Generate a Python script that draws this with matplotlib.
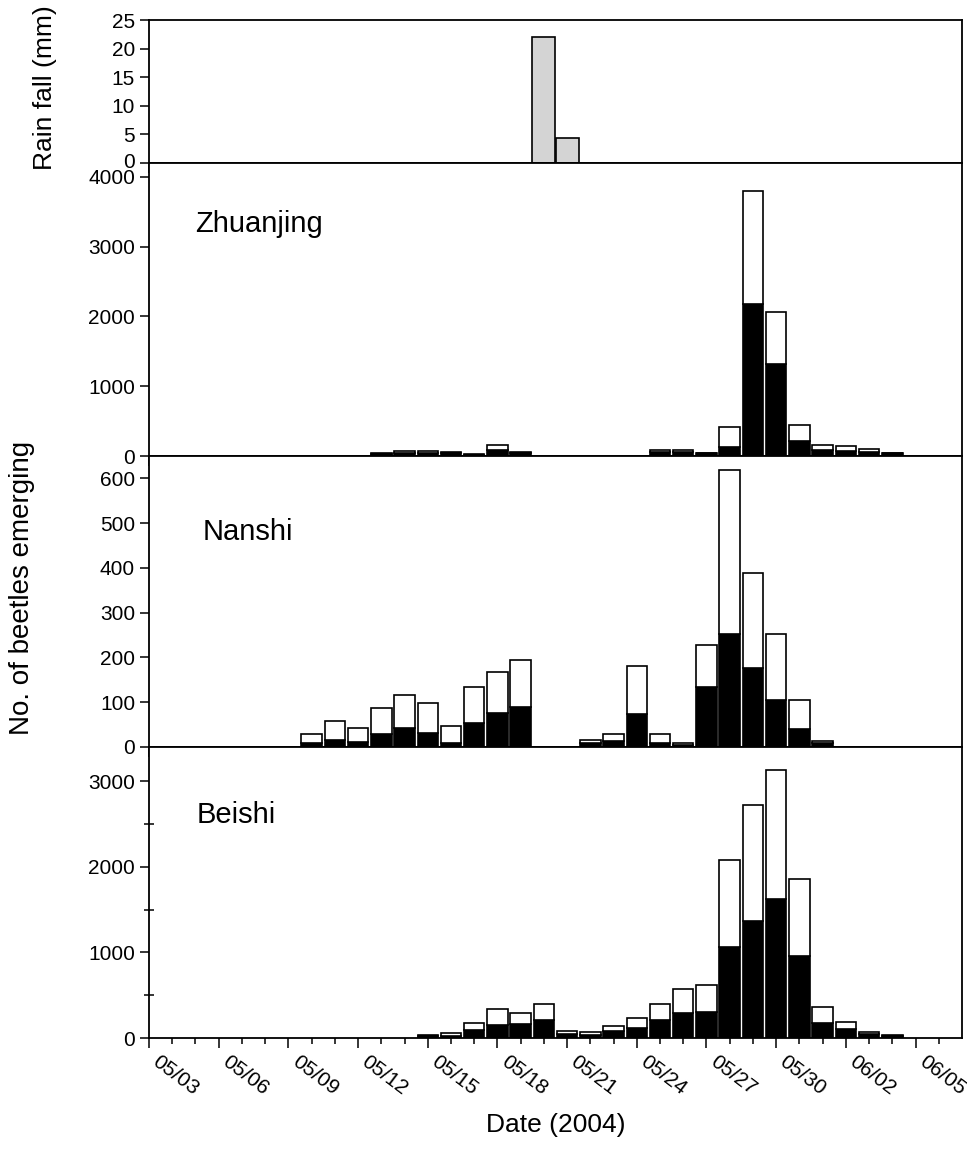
import matplotlib.pyplot as plt
import matplotlib.transforms as mtransforms
import numpy as np

plt.rcParams['font.family'] = ['Liberation Sans', 'DejaVu Sans']

# days counted from 05/03 (index 0) to 06/05 (index 33)
date_labels = ["05/03", "05/06", "05/09", "05/12", "05/15", "05/18",
               "05/21", "05/24", "05/27", "05/30", "06/02", "06/05"]

rain = [0, 0, 0, 0, 0, 0, 0, 0, 0, 0, 0, 0, 0, 0, 0, 0, 0, 22, 4.4,
        0, 0, 0, 0, 0, 0, 0, 0, 0, 0, 0, 0, 0, 0, 0]

zh_total = [0, 0, 0, 0, 0, 0, 0, 0, 0, 0,
            40, 65, 75, 60, 25, 155, 55,
            0, 0, 0, 0, 0,
            90, 80, 50, 420, 3800, 2060, 440, 160, 150, 95, 48,
            0]
zh_black = [0, 0, 0, 0, 0, 0, 0, 0, 0, 0,
            30, 40, 45, 40, 20, 85, 50,
            0, 0, 0, 0, 0,
            60, 55, 45, 130, 2175, 1320, 210, 85, 75, 60, 45,
            0]

na_total = [0, 0, 0, 0, 0, 0, 0,
            29, 57, 43, 86, 116, 99, 48, 134, 167, 195,
            0, 0,
            15, 30, 180, 29, 10, 227, 618, 389, 252, 105, 13,
            0, 0, 0, 0]
na_black = [0, 0, 0, 0, 0, 0, 0,
            8, 16, 12, 28, 42, 32, 10, 54, 75, 89,
            0, 0,
            9, 13, 73, 10, 4, 135, 252, 176, 106, 40, 8,
            0, 0, 0, 0]

be_total = [0, 0, 0, 0, 0, 0, 0, 0, 0, 0, 0, 0,
            40, 55, 180, 344, 293, 398, 86, 70, 145, 238, 402, 578, 617,
            2074, 2723, 3133, 1859, 359, 191, 74, 31,
            0]
be_black = [0, 0, 0, 0, 0, 0, 0, 0, 0, 0, 0, 0,
            25, 28, 98, 152, 160, 207, 47, 35, 78, 121, 207, 293, 301,
            1059, 1371, 1629, 957, 176, 105, 50, 28,
            0]

sites = ["Zhuanjing", "Nanshi", "Beishi"]
totals = [zh_total, na_total, be_total]
blacks = [zh_black, na_black, be_black]
ylims = [4200, 650, 3400]
ysteps = [1000, 100, 1000]
ymaxtick = [4000, 600, 3000]
name_pos = [(0.057, 0.765), (0.066, 0.711), (0.059, 0.739)]

lw = 1.2
fig = plt.figure(figsize=(9.67, 11.67), dpi=100)
gs = fig.add_gridspec(4, 1, height_ratios=[143, 293, 291, 291], hspace=0,
                      left=149/967, right=962/967, top=1-20/1167, bottom=1-1038/1167)
axes = [fig.add_subplot(gs[0])]
for i in range(1, 4):
    axes.append(fig.add_subplot(gs[i], sharex=axes[0]))

days = np.arange(len(rain))

# rain panel
ax = axes[0]
r = np.array(rain)
m = r > 0
ax.bar(days[m], r[m], width=1.0, color="#d4d4d4", edgecolor="black", linewidth=lw)
ax.set_ylim(0, 25)
ax.set_yticks(np.arange(0, 26, 5))

for ax, site, tot, blk, yl, ys, ym, pos in zip(axes[1:], sites, totals, blacks,
                                                 ylims, ysteps, ymaxtick, name_pos):
    tot = np.array(tot)
    blk = np.array(blk)
    m = tot > 0
    ax.bar(days[m], blk[m], width=0.88, color="black", edgecolor="black", linewidth=lw)
    ax.bar(days[m], tot[m] - blk[m], bottom=blk[m], width=0.88, color="white",
           edgecolor="black", linewidth=lw)
    ax.set_ylim(0, yl)
    ax.set_yticks(np.arange(0, ym + 1, ys))
    ax.text(pos[0], pos[1], site, transform=ax.transAxes, fontsize=21, va="baseline")

axes[3].set_yticks([500, 1500, 2500], minor=True)
axes[3].tick_params(axis="y", which="minor", direction="inout", length=7, width=1.1)

for ax in axes:
    ax.set_xlim(0, 35)
    ax.set_xticks(np.arange(0, 34, 3))
    ax.set_xticks(np.arange(0, 35, 1), minor=True)
    ax.tick_params(axis="x", which="major", direction="out", length=7, width=1.1)
    ax.tick_params(axis="x", which="minor", direction="out", length=4.5, width=1.1)
    ax.tick_params(axis="y", which="major", direction="out", length=6.5, width=1.1,
                   labelsize=15)
    ax.tick_params(axis="x", labelbottom=False)
    for s in ax.spines.values():
        s.set_linewidth(1.3)

# nudge the rain "0" up a little so it does not sit on the 4000 below it
shift = mtransforms.ScaledTranslation(0, 3/100, fig.dpi_scale_trans)
lab0 = axes[0].yaxis.get_major_ticks()[0].label1
lab0.set_transform(lab0.get_transform() + shift)

axes[3].tick_params(axis="x", labelbottom=True, labelsize=15, pad=3)
axes[3].set_xticklabels(date_labels, rotation=-37, ha="left", va="top")

fig.text(45/967, 1-88/1167, "Rain fall (mm)", rotation=90, ha="center", va="center", fontsize=19)
fig.text(22/967, 1-588/1167, "No. of beetles emerging", rotation=90, ha="center",
         va="center", fontsize=20)
fig.text(556/967, 1-1125/1167, "Date (2004)", ha="center", va="center", fontsize=19)

plt.savefig("out.png", dpi=100)
plt.close()
